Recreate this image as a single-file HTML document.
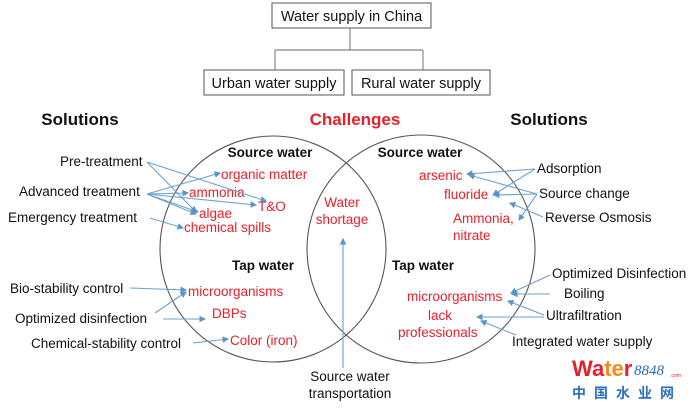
<!DOCTYPE html>
<html><head><meta charset="utf-8"><style>
html,body{margin:0;padding:0;background:#fff;}
svg{display:block;font-family:"Liberation Sans",Arial,sans-serif;}
.k{fill:#111;font-size:13.5px}
.r{fill:#e8202a;font-size:13.5px}
.b{font-weight:bold}
.a{stroke:#6aa2cf;stroke-width:1.1;fill:none;marker-end:url(#m)}
</style></head><body>
<svg width="700" height="409" viewBox="0 0 700 409">
<defs><marker id="m" markerWidth="6" markerHeight="6" refX="5" refY="3" orient="auto"><path d="M0,0L6,3L0,6z" fill="#5b95c8"/></marker></defs>
<rect x="272" y="3" width="159" height="25" fill="#fff" stroke="#555"/>
<text x="351.5" y="21" class="k" text-anchor="middle" style="font-size:14.5px">Water supply in China</text>
<path d="M350,28V50M275,50H423M275,50V70M423,50V70" stroke="#888" fill="none" stroke-width="1.2"/>
<rect x="204" y="70" width="140" height="25" fill="#fff" stroke="#555"/>
<text x="274" y="88" class="k" text-anchor="middle" style="font-size:14.5px">Urban water supply</text>
<rect x="352" y="70" width="138" height="25" fill="#fff" stroke="#555"/>
<text x="421" y="88" class="k" text-anchor="middle" style="font-size:14.5px">Rural water supply</text>
<text x="355" y="125" class="r b" text-anchor="middle" style="font-size:17px">Challenges</text>
<text x="80" y="125" class="k b" text-anchor="middle" style="font-size:17px">Solutions</text>
<text x="549" y="125" class="k b" text-anchor="middle" style="font-size:17px">Solutions</text>
<circle cx="273" cy="249" r="113" fill="none" stroke="#555" stroke-width="1.1"/>
<circle cx="421" cy="249" r="114" fill="none" stroke="#555" stroke-width="1.1"/>
<text x="270" y="157" class="k b" text-anchor="middle">Source water</text>
<text x="420" y="157" class="k b" text-anchor="middle">Source water</text>
<text x="263" y="270" class="k b" text-anchor="middle">Tap water</text>
<text x="423" y="270" class="k b" text-anchor="middle">Tap water</text>
<text x="221" y="179" class="r">organic matter</text>
<text x="189" y="197" class="r">ammonia</text>
<text x="258" y="211" class="r">T&amp;O</text>
<text x="199" y="218" class="r">algae</text>
<text x="184" y="232" class="r">chemical spills</text>
<text x="342" y="207" class="r" text-anchor="middle">Water</text>
<text x="342" y="224" class="r" text-anchor="middle">shortage</text>
<text x="188" y="296" class="r">microorganisms</text>
<text x="212" y="318" class="r">DBPs</text>
<text x="230" y="345" class="r">Color (iron)</text>
<text x="419" y="180" class="r">arsenic</text>
<text x="444" y="199" class="r">fluoride</text>
<text x="453" y="223" class="r">Ammonia,</text>
<text x="453" y="240" class="r">nitrate</text>
<text x="407" y="301" class="r">microorganisms</text>
<text x="428" y="320" class="r">lack</text>
<text x="398" y="337" class="r">professionals</text>
<text x="60" y="166" class="k">Pre-treatment</text>
<text x="19" y="196" class="k">Advanced treatment</text>
<text x="8" y="222" class="k">Emergency treatment</text>
<text x="10" y="293" class="k">Bio-stability control</text>
<text x="15" y="323" class="k">Optimized disinfection</text>
<text x="31" y="348" class="k">Chemical-stability control</text>
<text x="537" y="173" class="k">Adsorption</text>
<text x="539" y="198" class="k">Source change</text>
<text x="545" y="222" class="k">Reverse Osmosis</text>
<text x="552" y="278" class="k">Optimized Disinfection</text>
<text x="564" y="298" class="k">Boiling</text>
<text x="546" y="320" class="k">Ultrafiltration</text>
<text x="512" y="346" class="k">Integrated water supply</text>
<text x="350" y="381" class="k" text-anchor="middle">Source water</text>
<text x="350" y="398" class="k" text-anchor="middle">transportation</text>
<path class="a" d="M343,368V239"/>
<path class="a" d="M147,162L266,201"/><path class="a" d="M147,162L196,212"/>
<path class="a" d="M147,194L220,173"/><path class="a" d="M147,194L188,193"/><path class="a" d="M147,194L256,205"/><path class="a" d="M147,194L196,214"/><path class="a" d="M147,194L198,212"/>
<path class="a" d="M150,218L183,228"/>
<path class="a" d="M130,288L186,290"/><path class="a" d="M155,313L186,292"/><path class="a" d="M163,319L205,319"/>
<path class="a" d="M193,343L228,339"/>
<path class="a" d="M535,169L467,174"/><path class="a" d="M535,169L493,195"/><path class="a" d="M537,194L494,195"/><path class="a" d="M537,194L469,175"/><path class="a" d="M537,194L519,220"/><path class="a" d="M543,217L510,203"/>
<path class="a" d="M550,275L511,293"/><path class="a" d="M550,294L512,294"/><path class="a" d="M544,315L508,301"/><path class="a" d="M544,317L477,317"/><path class="a" d="M516,335L481,321"/>
<text x="572" y="376" font-size="22" font-weight="bold" fill="#e8202a" font-family="Liberation Sans,sans-serif">Wa<tspan fill="#f08a1c">te</tspan>r</text>
<text x="634" y="375" font-size="15" font-style="italic" fill="#2a6fc0" font-family="Liberation Serif,serif">8848</text>
<text x="670" y="377" font-size="5" fill="#e8202a">.com</text>
<text x="572" y="398" font-size="14" font-weight="bold" fill="#2a6fc0" letter-spacing="8" font-family="Liberation Sans,'Noto Sans CJK SC',sans-serif">中国水业网</text>
</svg>
</body></html>
